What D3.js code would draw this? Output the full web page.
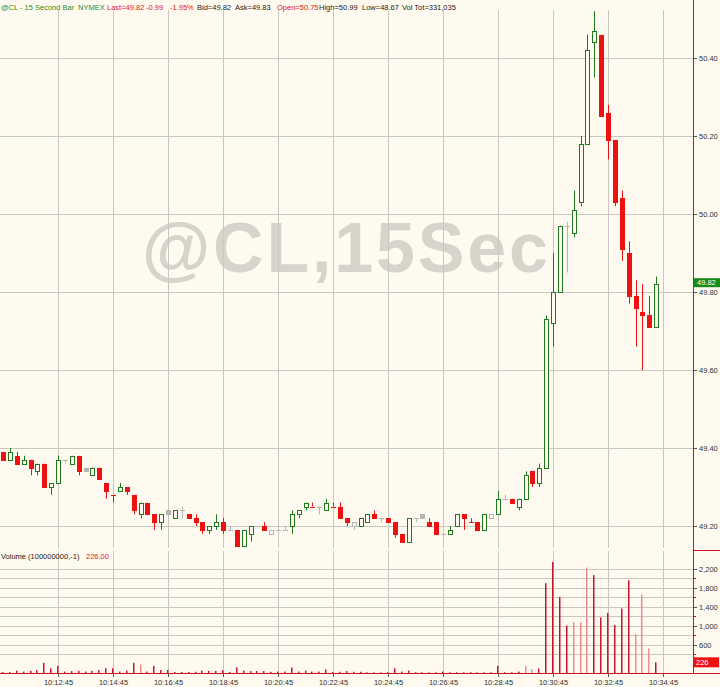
<!DOCTYPE html>
<html><head><meta charset="utf-8">
<script src="https://cdn.jsdelivr.net/npm/d3@7"></script>
<style>html,body{margin:0;padding:0;background:#fefaf0;}svg{display:block;font-family:"Liberation Sans",Arial,sans-serif;}</style>
</head><body><div id="chart"></div>
<script>
// ---- data ----
const symbol = "@CL,15Sec";
const startTime = "10:10:45";
const barSeconds = 15;
const timeTicks = ["10:12:45","10:14:45","10:16:45","10:18:45","10:20:45","10:22:45","10:24:45","10:26:45","10:28:45","10:30:45","10:32:45","10:34:45"];
const priceTicks = [49.20, 49.40, 49.60, 49.80, 50.00, 50.20, 50.40];
const volTicks = [600, 1000, 1400, 1800, 2200];
const volGrid = [400, 600, 800, 1000, 1200, 1400, 1600, 1800, 2000, 2200];
const opens = [49.39,49.37,49.38,49.36,49.37,49.34,49.36,49.30,49.31,49.37,49.36,49.38,49.35,49.33,49.35,49.31,49.28,49.29,49.30,49.28,
49.23,49.26,49.23,49.21,49.24,49.22,49.24,49.23,49.22,49.21,49.19,49.20,49.21,49.19,49.19,49.15,49.18,49.20,49.20,49.18,
49.19,49.19,49.20,49.23,49.25,49.25,49.25,49.24,49.25,49.25,49.22,49.20,49.20,49.21,49.23,49.22,49.22,49.21,49.18,49.16,
49.22,49.23,49.21,49.21,49.18,49.18,49.20,49.23,49.21,49.21,49.19,49.22,49.23,49.27,49.27,49.25,49.27,49.34,49.31,49.35,
49.72,49.80,49.97,49.95,50.03,50.18,50.44,50.46,50.26,50.19,50.04,49.90,49.79,49.75,49.74,49.71];
const highs = [49.39,49.40,49.39,49.38,49.37,49.36,49.36,49.31,49.38,49.37,49.38,49.38,49.35,49.35,49.35,49.31,49.28,49.31,49.30,49.28,
49.26,49.26,49.23,49.23,49.24,49.24,49.25,49.23,49.23,49.21,49.20,49.23,49.22,49.20,49.19,49.19,49.20,49.20,49.21,49.19,
49.20,49.20,49.24,49.24,49.26,49.26,49.25,49.27,49.26,49.26,49.22,49.21,49.22,49.23,49.24,49.22,49.22,49.21,49.18,49.22,
49.22,49.23,49.22,49.21,49.18,49.20,49.23,49.23,49.22,49.21,49.23,49.23,49.29,49.28,49.27,49.27,49.34,49.34,49.36,49.74,
49.90,49.97,49.98,50.06,50.20,50.46,50.52,50.46,50.28,50.19,50.06,49.93,49.83,49.82,49.79,49.84];
const lows = [49.37,49.37,49.36,49.36,49.33,49.33,49.30,49.28,49.31,49.36,49.36,49.33,49.34,49.33,49.32,49.27,49.26,49.29,49.28,49.23,
49.22,49.23,49.19,49.19,49.23,49.22,49.22,49.22,49.20,49.18,49.18,49.19,49.18,49.19,49.15,49.15,49.16,49.20,49.19,49.18,
49.19,49.19,49.18,49.22,49.24,49.25,49.23,49.24,49.25,49.22,49.20,49.19,49.20,49.21,49.22,49.21,49.21,49.17,49.16,49.16,
49.21,49.22,49.20,49.18,49.18,49.18,49.20,49.19,49.21,49.19,49.19,49.22,49.23,49.27,49.26,49.24,49.27,49.30,49.30,49.35,
49.66,49.80,49.85,49.94,50.02,50.18,50.35,50.25,50.14,50.02,49.88,49.77,49.66,49.60,49.71,49.71];
const closes = [49.37,49.39,49.36,49.37,49.35,49.36,49.30,49.31,49.37,49.37,49.38,49.34,49.34,49.35,49.32,49.29,49.28,49.30,49.29,49.24,
49.26,49.23,49.21,49.23,49.23,49.24,49.24,49.22,49.21,49.19,49.20,49.21,49.19,49.19,49.15,49.19,49.20,49.20,49.19,49.19,
49.19,49.19,49.23,49.24,49.26,49.25,49.25,49.26,49.25,49.22,49.21,49.21,49.22,49.23,49.22,49.22,49.21,49.18,49.16,49.22,
49.22,49.22,49.20,49.18,49.18,49.19,49.23,49.22,49.21,49.19,49.23,49.23,49.27,49.27,49.26,49.27,49.33,49.31,49.35,49.73,
49.80,49.97,49.97,50.01,50.18,50.42,50.47,50.25,50.19,50.03,49.91,49.79,49.76,49.74,49.71,49.82];
const volumes = [20,20,50,30,45,60,215,100,150,30,40,45,30,45,60,100,100,30,50,215,
180,30,150,60,65,20,20,20,25,50,45,45,60,20,120,50,40,40,40,25,
30,30,115,30,50,30,30,75,20,25,40,25,25,15,15,15,15,100,30,50,
15,15,15,15,30,15,15,15,15,15,15,15,150,15,15,30,145,80,95,1900,
2350,1610,1000,1070,1070,2230,2070,1175,1270,1015,1365,1960,820,1660,520,226];
// "L" = light volume bar, "D" = dark volume bar
const volTone = ["D","D","D","D","D","D","D","D","D","D","D","D","D","D","D","D","D","D","D","D",
"L","D","D","D","D","D","D","D","D","D","D","D","D","D","D","D","D","D","D","D",
"D","D","D","D","D","D","D","D","D","D","D","D","D","D","D","D","D","D","D","D",
"D","D","D","D","D","D","D","D","D","D","D","D","D","D","D","D","L","L","D","D",
"D","D","D","L","L","L","D","D","D","D","D","D","L","L","L","D"];
const lastPrice = 49.82;
const lastVolume = 226;
const header = [
  {t:"@CL - 15 Second Bar", c:"g", x:1},
  {t:"NYMEX", c:"g", x:78},
  {t:"Last=49.82", c:"r", x:107},
  {t:"-0.99", c:"r", x:146},
  {t:"-1.95%", c:"r", x:170},
  {t:"Bid=49.82", c:"k", x:197},
  {t:"Ask=49.83", c:"k", x:235},
  {t:"Open=50.75", c:"r", x:277},
  {t:"High=50.99", c:"k", x:319},
  {t:"Low=48.67", c:"k", x:362},
  {t:"Vol Tot=331,035", c:"k", x:402}
];

// ---- drawing ----
const W = 720, H = 687;
const BG = "#fefaf0", GRID = "#c9c7c2", AXISRED = "#cc1020";
const GREEN = "#1f7a1f", RED = "#ee1111", GRAY = "#b5b5b5";
const hc = {g:"#2a8a2a", r:"#e01818", k:"#222"};
const FS = 7.5;
const plotRight = 693, priceTop = 10, priceBottom = 548, volTop = 551, volBottom = 673;

const parse = d3.timeParse("%H:%M:%S");
const t0 = parse(startTime);
const bars = opens.map((o,i)=>({
  t: d3.timeSecond.offset(t0, barSeconds*i), o, h:highs[i], l:lows[i], c:closes[i],
  v: volumes[i], tone: volTone[i], prev: i>0 ? closes[i-1] : opens[i]
}));

const x = d3.scaleTime().domain([parse("10:10:45"), parse("10:34:45")]).range([3, 663]);
const y = d3.scaleLinear().domain([49.20, 50.40]).range([526, 58]);
const yv = d3.scaleLinear().domain([0, 2200]).range([volBottom, 569]);

const svg = d3.select("#chart").append("svg").attr("width", W).attr("height", H);
svg.append("rect").attr("width", W).attr("height", H).attr("fill", BG);

// watermark
svg.append("text").attr("x", 142).attr("y", 272).attr("textLength", 406).attr("lengthAdjust","spacing")
  .attr("font-size", 70).attr("font-weight", "bold").attr("fill", "#d8d4cb").text(symbol);

// vertical grid
timeTicks.forEach(s=>{
  const xx = Math.round(x(parse(s))) + 0.5;
  svg.append("line").attr("x1",xx).attr("x2",xx).attr("y1",priceTop).attr("y2",priceBottom).attr("stroke",GRID);
  svg.append("line").attr("x1",xx).attr("x2",xx).attr("y1",volTop).attr("y2",volBottom).attr("stroke",GRID);
  svg.append("line").attr("x1",xx).attr("x2",xx).attr("y1",volBottom).attr("y2",volBottom+4).attr("stroke","#555");
  svg.append("text").attr("x",xx).attr("y",685).attr("text-anchor","middle").attr("font-size",FS).attr("fill","#333").text(s);
});
// horizontal price grid
priceTicks.forEach(p=>{
  const yy = Math.round(y(p)) + 0.5;
  svg.append("line").attr("x1",0).attr("x2",plotRight).attr("y1",yy).attr("y2",yy).attr("stroke",GRID);
  svg.append("line").attr("x1",plotRight).attr("x2",plotRight+4).attr("y1",yy).attr("y2",yy).attr("stroke","#555");
  svg.append("text").attr("x",699).attr("y",yy).attr("dy","0.35em").attr("font-size",FS).attr("fill","#333").text(d3.format(".2f")(p));
});
// volume grid
volGrid.forEach(v=>{
  const yy = Math.round(yv(v)) + 0.5;
  svg.append("line").attr("x1",0).attr("x2",plotRight).attr("y1",yy).attr("y2",yy).attr("stroke",GRID).attr("stroke-width",1.2);
  svg.append("line").attr("x1",plotRight).attr("x2",plotRight+3).attr("y1",yy).attr("y2",yy).attr("stroke",AXISRED);
});
volTicks.forEach(v=>{
  const yy = Math.round(yv(v)) + 0.5;
  svg.append("line").attr("x1",plotRight).attr("x2",plotRight+4).attr("y1",yy).attr("y2",yy).attr("stroke","#555");
  svg.append("text").attr("x",699).attr("y",yy).attr("dy","0.35em").attr("font-size",FS).attr("fill","#333").text(d3.format(",")(v));
});

// candles (clipped to price panel)
svg.append("clipPath").attr("id","pc").append("rect").attr("x",0).attr("y",priceTop-10).attr("width",plotRight).attr("height",priceBottom-priceTop+10);
const cg = svg.append("g").attr("clip-path","url(#pc)");
bars.forEach(b=>{
  const col = b.c > b.prev ? GREEN : (b.c < b.prev ? RED : GRAY);
  const cx = Math.round(x(b.t));
  const xl = cx + 0.5;
  cg.append("line").attr("x1",xl).attr("x2",xl).attr("y1",y(b.h)).attr("y2",y(b.l)).attr("stroke",col).attr("stroke-width",1);
  const top = y(Math.max(b.o,b.c)), bot = y(Math.min(b.o,b.c));
  if (Math.abs(b.o-b.c) < 1e-9) {
    const yy = Math.round(y(b.c)) + 0.5;
    cg.append("line").attr("x1",cx-2).attr("x2",cx+3).attr("y1",yy).attr("y2",yy).attr("stroke",col);
  } else if (b.c > b.o) {
    cg.append("rect").attr("x",cx-1.5).attr("y",Math.round(top)+0.5).attr("width",4).attr("height",Math.max(1,Math.round(bot)-Math.round(top)))
      .attr("fill",BG).attr("stroke",col).attr("stroke-width",1);
  } else {
    cg.append("rect").attr("x",cx-2).attr("y",Math.round(top)).attr("width",5).attr("height",Math.max(1,Math.round(bot)-Math.round(top)+1))
      .attr("fill",col);
  }
});

// volume bars
bars.forEach(b=>{
  const cx = Math.round(x(b.t)) - 1;
  svg.append("rect").attr("x",cx).attr("y",yv(b.v)).attr("width",1.5).attr("height",volBottom-yv(b.v))
    .attr("fill", b.tone === "L" ? "#f08c8c" : "#c4142e");
});

// axes frame
svg.append("line").attr("x1",plotRight+0.5).attr("x2",plotRight+0.5).attr("y1",0).attr("y2",volBottom).attr("stroke",AXISRED);
svg.append("line").attr("x1",0).attr("x2",W).attr("y1",volBottom+0.5).attr("y2",volBottom+0.5).attr("stroke",AXISRED);
svg.append("line").attr("x1",plotRight).attr("x2",W).attr("y1",550.5).attr("y2",550.5).attr("stroke",AXISRED);

// last price tag
const ly = y(lastPrice);
svg.append("rect").attr("x",694).attr("y",ly-6).attr("width",26).attr("height",9).attr("fill","#1a8c1a");
svg.append("text").attr("x",697).attr("y",ly-1.5).attr("dy","0.35em").attr("font-size",FS).attr("fill","#fff").text(d3.format(".2f")(lastPrice));
// last volume tag
const lvy = yv(lastVolume);
svg.append("rect").attr("x",694).attr("y",lvy-5).attr("width",25).attr("height",10).attr("fill",RED);
svg.append("text").attr("x",696).attr("y",lvy).attr("dy","0.35em").attr("font-size",FS).attr("fill","#fff").text(lastVolume);

// header
header.forEach(h=>{
  svg.append("text").attr("x",h.x).attr("y",10).attr("font-size",FS).attr("fill",hc[h.c]).text(h.t);
});
// volume label
svg.append("text").attr("x",1).attr("y",559).attr("font-size",FS).attr("fill","#222").text("Volume (100000000,-1)");
svg.append("text").attr("x",86).attr("y",559).attr("font-size",FS).attr("fill","#e01818").text(d3.format(".2f")(lastVolume));
</script></body></html>
